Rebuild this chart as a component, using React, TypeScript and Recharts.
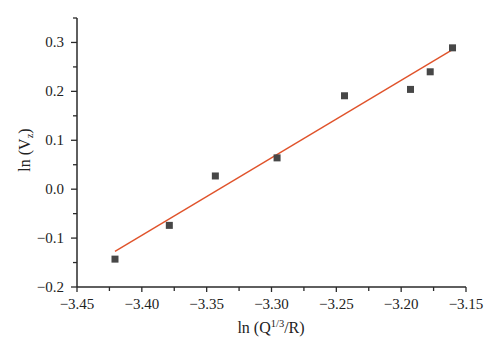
import React from "react";
import { ScatterChart, Scatter, XAxis, YAxis, Label } from "recharts";

const lnQR = [-3.4207, -3.3788, -3.3433, -3.2957, -3.2437, -3.1928, -3.1776, -3.1604];
const lnVz = [-0.143, -0.074, 0.027, 0.064, 0.191, 0.204, 0.24, 0.289];
const fitX = [-3.4207, -3.1604];
const fitY = [-0.127, 0.2855];
const xTicks = [-3.45, -3.425, -3.4, -3.375, -3.35, -3.325, -3.3, -3.275, -3.25, -3.225, -3.2, -3.175, -3.15];
const yTicks = [-0.2, -0.15, -0.1, -0.05, 0, 0.05, 0.1, 0.15, 0.2, 0.25, 0.3, 0.35];

const points = lnQR.map((x, i) => ({ x, y: lnVz[i] }));
const fit = fitX.map((x, i) => ({ x, y: fitY[i] }));

const FONT = "'Liberation Serif', 'Times New Roman', serif";
const AX = "#2a2a2a";

const fmt = (v: number, d: number) => {
  const s = Math.abs(v).toFixed(d);
  return v < -1e-9 ? "\u2212" + s : s;
};

const XTick = (props: any) => {
  const { x, y, index, payload } = props;
  const major = index % 2 === 0;
  return (
    <g>
      <line x1={x} x2={x} y1={y} y2={y + (major ? 5 : 4)} stroke={AX} strokeWidth={1.3} />
      {major && (
        <text x={x} y={y + 22} textAnchor="middle" fontFamily={FONT} fontSize={15} fill="#222">
          {fmt(payload.value, 2)}
        </text>
      )}
    </g>
  );
};

const YTick = (props: any) => {
  const { x, y, index, payload } = props;
  const major = index % 2 === 0;
  return (
    <g>
      <line x1={x} x2={x - (major ? 6 : 4)} y1={y} y2={y} stroke={AX} strokeWidth={1.3} />
      {major && (
        <text x={x - 13} y={y + 5} textAnchor="end" fontFamily={FONT} fontSize={15} fill="#222">
          {fmt(payload.value, 1)}
        </text>
      )}
    </g>
  );
};

const SquareDot = (props: any) => {
  const { cx, cy } = props;
  if (cx == null || cy == null) return null;
  return <rect x={cx - 3.5} y={cy - 3.5} width={7} height={7} fill="#474747" />;
};

const NoDot = () => null;

export default function App() {
  return (
    <div style={{ position: "absolute", left: 0, top: 0, width: 500, height: 352, background: "#fff" }}>
      <ScatterChart width={500} height={352} margin={{ top: 18, right: 34, bottom: 0, left: 0 }}>
        <XAxis
          type="number"
          dataKey="x"
          domain={[-3.45, -3.15]}
          ticks={xTicks}
          interval={0}
          allowDataOverflow
          height={65}
          tickSize={0}
          tickMargin={0}
          tickLine={false}
          axisLine={{ stroke: AX, strokeWidth: 1.5 }}
          tick={<XTick />}
        >
          <Label
            content={() => (
              <text x={271} y={333} textAnchor="middle" fontFamily={FONT} fontSize={16} fill="#222">
                ln (Q
                <tspan fontSize={10.5} dy={-6}>1/3</tspan>
                <tspan dy={6}>/R)</tspan>
              </text>
            )}
          />
        </XAxis>
        <YAxis
          type="number"
          dataKey="y"
          domain={[-0.2, 0.35]}
          ticks={yTicks}
          interval={0}
          allowDataOverflow
          width={77}
          tickSize={0}
          tickMargin={0}
          tickLine={false}
          axisLine={{ stroke: AX, strokeWidth: 1.5 }}
          tick={<YTick />}
        >
          <Label
            content={() => (
              <text
                x={30}
                y={150}
                transform="rotate(-90 30 150)"
                textAnchor="middle"
                fontFamily={FONT}
                fontSize={16}
                fill="#222"
              >
                ln (V
                <tspan fontSize={10.5} dy={3}>z</tspan>
                <tspan dy={-3}>)</tspan>
              </text>
            )}
          />
        </YAxis>
        <Scatter
          data={fit}
          line={{ stroke: "#e0532b", strokeWidth: 1.4 }}
          shape={<NoDot />}
          isAnimationActive={false}
        />
        <Scatter data={points} shape={<SquareDot />} isAnimationActive={false} />
      </ScatterChart>
    </div>
  );
}
